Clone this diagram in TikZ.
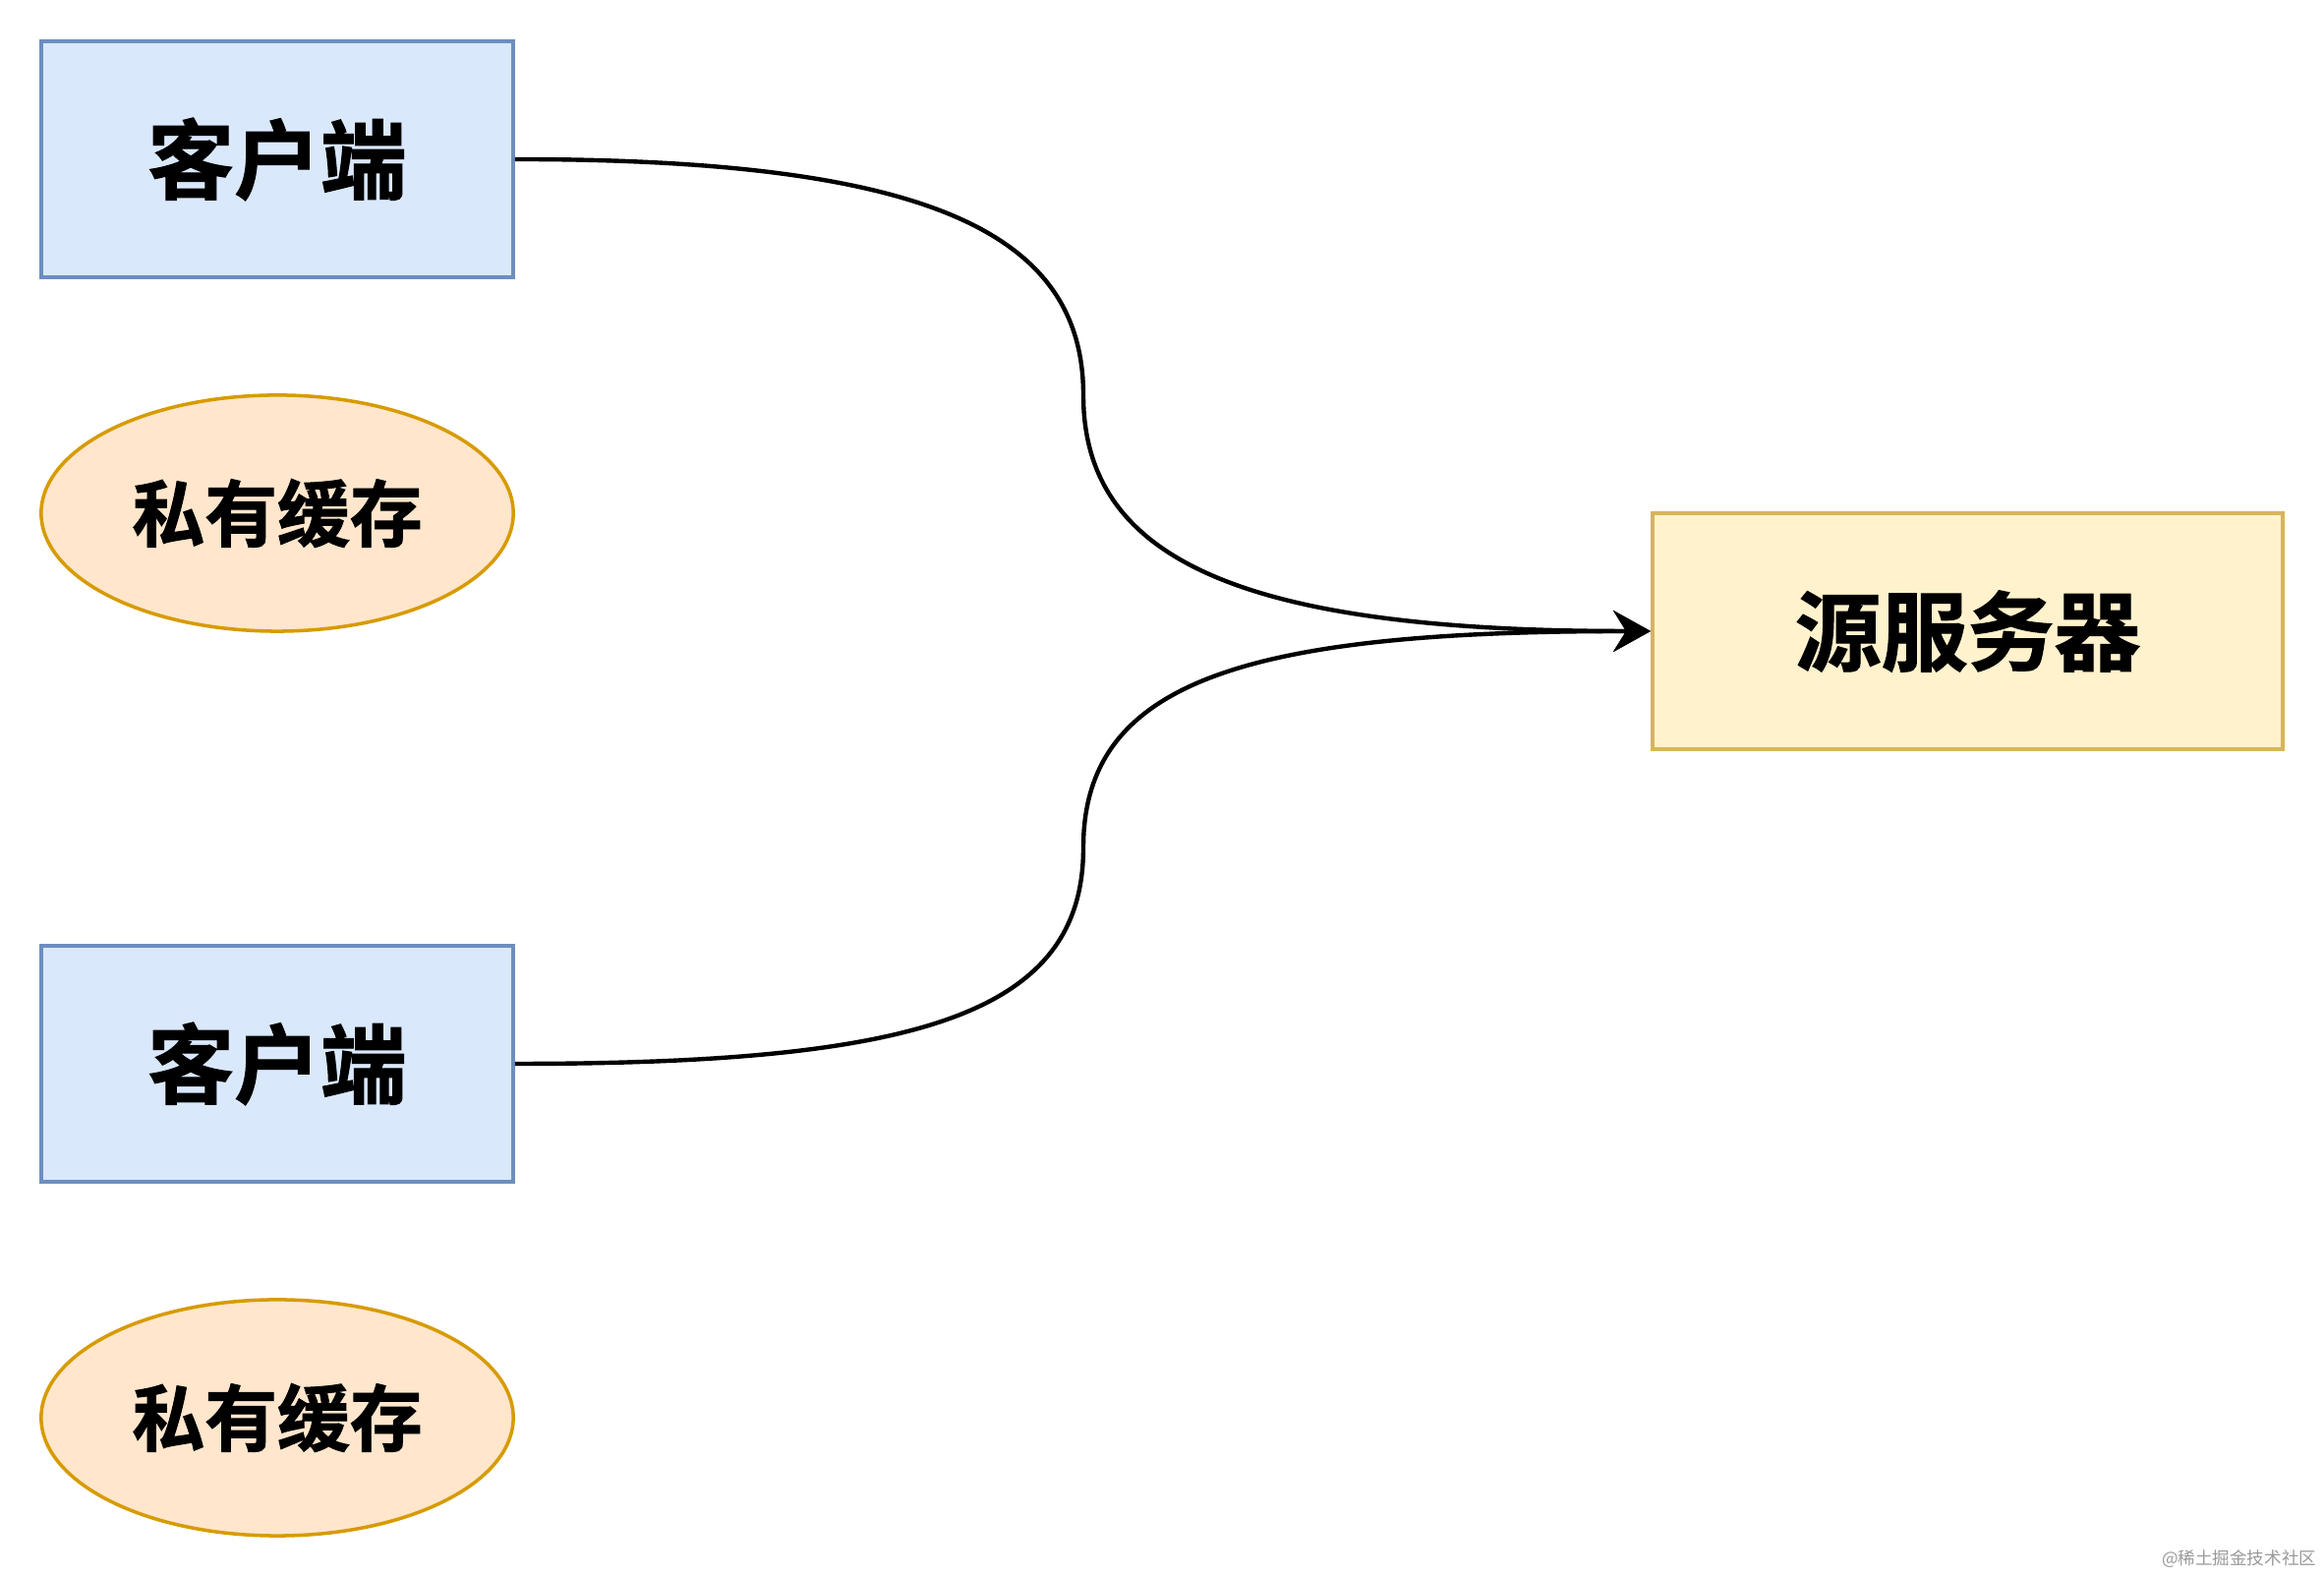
\documentclass[tikz,border=0pt]{standalone}
\usepackage{fontspec}
\newfontfamily\cjk{Noto Sans CJK SC}
\newfontfamily\cjkbold[FakeBold=1.2]{Noto Sans CJK SC Bold}
\usetikzlibrary{arrows.meta, positioning, shapes.geometric}

\definecolor{blueFill}{HTML}{DAE8FC}
\definecolor{blueLine}{HTML}{6C8EBF}
\definecolor{orangeFill}{HTML}{FFE6CC}
\definecolor{orangeLine}{HTML}{D79B00}
\definecolor{yellowFill}{HTML}{FFF2CC}
\definecolor{yellowLine}{HTML}{D6B656}

\begin{document}
\begin{tikzpicture}[x=0.01cm, y=0.01cm,
  label text/.style={font=\cjkbold\fontsize{25}{30}\selectfont},
  clientbox/.style={label text, draw=blueLine, fill=blueFill, line width=1pt,
    minimum width=4.8cm, minimum height=2.4cm},
  cachebox/.style={ellipse, draw=orangeLine, fill=orangeFill, line width=1pt,
    inner sep=0pt, minimum width=4.8cm, minimum height=2.4cm,
    font=\cjkbold\fontsize{21}{25}\selectfont},
  serverbox/.style={label text, draw=yellowLine, fill=yellowFill, line width=1pt,
    minimum width=6.41cm, minimum height=2.4cm},
  link/.style={line width=1.25pt, -{Stealth[length=3.8mm, width=4.2mm, inset=1.3mm]}}]
\useasboundingbox (0,0) rectangle (2364,1604);
\node[clientbox] (client1) at (282,1442) {客户端};
\node[cachebox] (cache1) at (282,1082) {\makebox[0pt]{私有缓存}};
\node[clientbox] (client2) at (282,522) {客户端};
\node[cachebox] (cache2) at (282,162) {\makebox[0pt]{私有缓存}};
\node[serverbox] (server) at (2001.5,962) {源服务器};
\coordinate (bend1) at (1102,1202);
\coordinate (bend2) at (1102,742);
\draw[link] (client1.east) .. controls +(410,0) and +(0,170) .. (bend1)
  .. controls +(0,-170) and +(-410,0) .. (server.west);
\draw[link] (client2.east) .. controls +(410,0) and +(0,-170) .. (bend2)
  .. controls +(0,170) and +(-410,0) .. (server.west);
% watermark
\node[font=\cjk\fontsize{5}{6}\selectfont, text=black!40, inner sep=0pt, anchor=east] (mark) at (2357,18) {@稀土掘金技术社区};
\end{tikzpicture}
\end{document}
